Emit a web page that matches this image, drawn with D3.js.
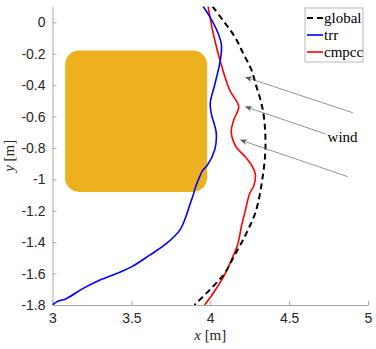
<!DOCTYPE html>
<html>
<head>
<meta charset="utf-8">
<script src="https://cdn.jsdelivr.net/npm/d3@7"></script>
<style>
  body { margin: 0; background: #fff; }
  svg { display: block; }
</style>
</head>
<body>
<div id="chart"></div>
<script>
// Chart size and plot area
const width = 376;
const height = 349;
const plot = { left: 52.5, right: 368, top: 6.6, bottom: 305 };

// Data
const xTicks = [3, 3.5, 4, 4.5, 5];
const yTicks = [0, -0.2, -0.4, -0.6, -0.8, -1, -1.2, -1.4, -1.6, -1.8];

// obstacle [x0, x1, y0, y1]
const obstacle = [3.08, 3.98, -1.08, -0.18];

const globalPath = [
  [4.015, 0.10], [4.09, 0.0], [4.16, -0.1], [4.21, -0.2], [4.26, -0.3],
  [4.29, -0.4], [4.32, -0.5], [4.34, -0.6], [4.35, -0.8], [4.33, -1.0],
  [4.29, -1.2], [4.24, -1.32], [4.20, -1.4], [4.14, -1.51], [4.09, -1.6],
  [4.00, -1.7], [3.90, -1.80]
];

const trrPath = [
  [3.953, 0.104], [3.997, 0.036], [4.049, -0.068], [4.071, -0.145], [4.063, -0.246],
  [4.028, -0.399], [4.000, -0.514], [4.006, -0.578], [4.038, -0.705], [4.028, -0.813],
  [3.978, -0.915], [3.953, -0.941], [3.924, -1.004], [3.902, -1.062], [3.896, -1.087],
  [3.870, -1.164], [3.845, -1.240], [3.807, -1.323], [3.723, -1.408], [3.617, -1.482],
  [3.501, -1.557], [3.406, -1.599], [3.301, -1.641], [3.195, -1.694], [3.090, -1.758],
  [3.027, -1.780], [3.000, -1.800]
];

const cmpccPath = [
  [3.986, 0.104], [4.018, -0.068], [4.063, -0.246], [4.123, -0.431], [4.180, -0.536],
  [4.149, -0.622], [4.133, -0.696], [4.161, -0.788], [4.225, -0.860], [4.268, -0.920],
  [4.286, -0.970], [4.276, -1.040], [4.250, -1.090], [4.223, -1.196], [4.197, -1.302],
  [4.176, -1.408], [4.134, -1.514], [4.100, -1.590], [4.028, -1.711], [3.965, -1.800]
];

// wind arrows: [tailX, tailY, headX, headY]
const windArrows = [
  [4.904, -0.576, 4.225, -0.350],
  [4.731, -0.711, 4.225, -0.538],
  [4.872, -0.983, 4.193, -0.750]
];
const windLabel = { x: 4.744, y: -0.76, text: "wind" };

const series = [
  { name: "global", data: globalPath, color: "#000", width: 2, dash: "6,4" },
  { name: "trr", data: trrPath, color: "#0000ff", width: 1.6, dash: null },
  { name: "cmpcc", data: cmpccPath, color: "#ff0000", width: 1.6, dash: null }
];

const x = d3.scaleLinear().domain([3, 5]).range([plot.left, plot.right]);
const y = d3.scaleLinear().domain([-1.8, 0.1]).range([plot.bottom, plot.top]);

const svg = d3.select("#chart")
  .append("svg")
    .attr("width", width)
    .attr("height", height);

svg.append("defs").append("clipPath")
    .attr("id", "clip")
  .append("rect")
    .attr("x", plot.left)
    .attr("y", plot.top)
    .attr("width", plot.right - plot.left)
    .attr("height", plot.bottom - plot.top);

svg.select("defs").append("marker")
    .attr("id", "head")
    .attr("viewBox", "0 0 10 10")
    .attr("refX", 9)
    .attr("refY", 5)
    .attr("markerUnits", "userSpaceOnUse")
    .attr("markerWidth", 7)
    .attr("markerHeight", 7)
    .attr("orient", "auto")
  .append("path")
    .attr("d", "M0,1 L10,5 L0,9 L3,5 Z")
    .attr("fill", "#555");

// Axes (left + bottom only, inward ticks)
const axisColor = "#a6a6a6";
const textColor = "#262626";

const xAxis = svg.append("g")
    .attr("transform", `translate(0,${plot.bottom})`)
    .call(d3.axisBottom(x).tickValues(xTicks).tickSizeInner(-4).tickSizeOuter(0).tickPadding(8).tickFormat(d3.format("")));

const yAxis = svg.append("g")
    .attr("transform", `translate(${plot.left},0)`)
    .call(d3.axisLeft(y).tickValues(yTicks).tickSizeInner(-4).tickSizeOuter(0).tickPadding(7).tickFormat(d => d3.format("")(d).replace("−", "-")));

[xAxis, yAxis].forEach(g => {
  g.select(".domain").attr("stroke", axisColor);
  g.selectAll(".tick line").attr("stroke", axisColor);
  g.selectAll(".tick text")
    .attr("fill", textColor)
    .style("font-family", "'Liberation Sans', Arial, sans-serif")
    .style("font-size", "14px");
});

// Obstacle
const area = svg.append("g").attr("clip-path", "url(#clip)");

area.append("rect")
    .attr("x", x(obstacle[0]))
    .attr("y", y(obstacle[3]))
    .attr("width", x(obstacle[1]) - x(obstacle[0]))
    .attr("height", y(obstacle[2]) - y(obstacle[3]))
    .attr("rx", 14)
    .attr("ry", 14)
    .attr("fill", "#edb120");

// Trajectories
const line = d3.line()
    .x(d => x(d[0]))
    .y(d => y(d[1]))
    .curve(d3.curveCatmullRom.alpha(0.5));

series.slice().reverse().forEach(s => {
  area.append("path")
      .datum(s.data)
      .attr("d", line)
      .attr("fill", "none")
      .attr("stroke", s.color)
      .attr("stroke-width", s.width)
      .attr("stroke-dasharray", s.dash);
});

// Wind arrows
svg.selectAll(".wind")
  .data(windArrows)
  .enter()
  .append("line")
    .attr("class", "wind")
    .attr("x1", d => x(d[0]))
    .attr("y1", d => y(d[1]))
    .attr("x2", d => x(d[2]))
    .attr("y2", d => y(d[3]))
    .attr("stroke", "#666")
    .attr("stroke-width", 0.7)
    .attr("marker-end", "url(#head)");

svg.append("text")
    .attr("x", x(windLabel.x))
    .attr("y", y(windLabel.y))
    .style("font-family", "'Liberation Serif', 'Times New Roman', serif")
    .style("font-size", "15px")
    .attr("fill", "#000")
    .text(windLabel.text);

// Axis labels
const xLabel = svg.append("text")
    .attr("x", (plot.left + plot.right) / 2)
    .attr("y", 340)
    .attr("text-anchor", "middle")
    .attr("fill", textColor)
    .style("font-family", "'Liberation Serif', 'Times New Roman', serif")
    .style("font-size", "15px");
xLabel.append("tspan").style("font-style", "italic").text("x");
xLabel.append("tspan").text(" [m]");

const yLabel = svg.append("text")
    .attr("transform", `translate(14,${(plot.top + plot.bottom) / 2}) rotate(-90)`)
    .attr("text-anchor", "middle")
    .attr("fill", textColor)
    .style("font-family", "'Liberation Serif', 'Times New Roman', serif")
    .style("font-size", "15px");
yLabel.append("tspan").style("font-style", "italic").text("y");
yLabel.append("tspan").text(" [m]");

// Legend
const legend = svg.append("g").attr("transform", "translate(305,8)");

legend.append("rect")
    .attr("width", 58)
    .attr("height", 54)
    .attr("fill", "#fff")
    .attr("stroke", "#a6a6a6")
    .attr("stroke-width", 0.8);

series.forEach((s, i) => {
  const row = legend.append("g").attr("transform", `translate(0,${10 + i * 17})`);
  row.append("line")
      .attr("x1", 2)
      .attr("x2", 18)
      .attr("stroke", s.color)
      .attr("stroke-width", s.width)
      .attr("stroke-dasharray", s.dash ? "6,4" : null);
  row.append("text")
      .attr("x", 19)
      .attr("y", 5)
      .style("font-family", "'Liberation Serif', 'Times New Roman', serif")
      .style("font-size", "15px")
      .attr("fill", "#000")
      .text(s.name);
});
</script>
</body>
</html>
